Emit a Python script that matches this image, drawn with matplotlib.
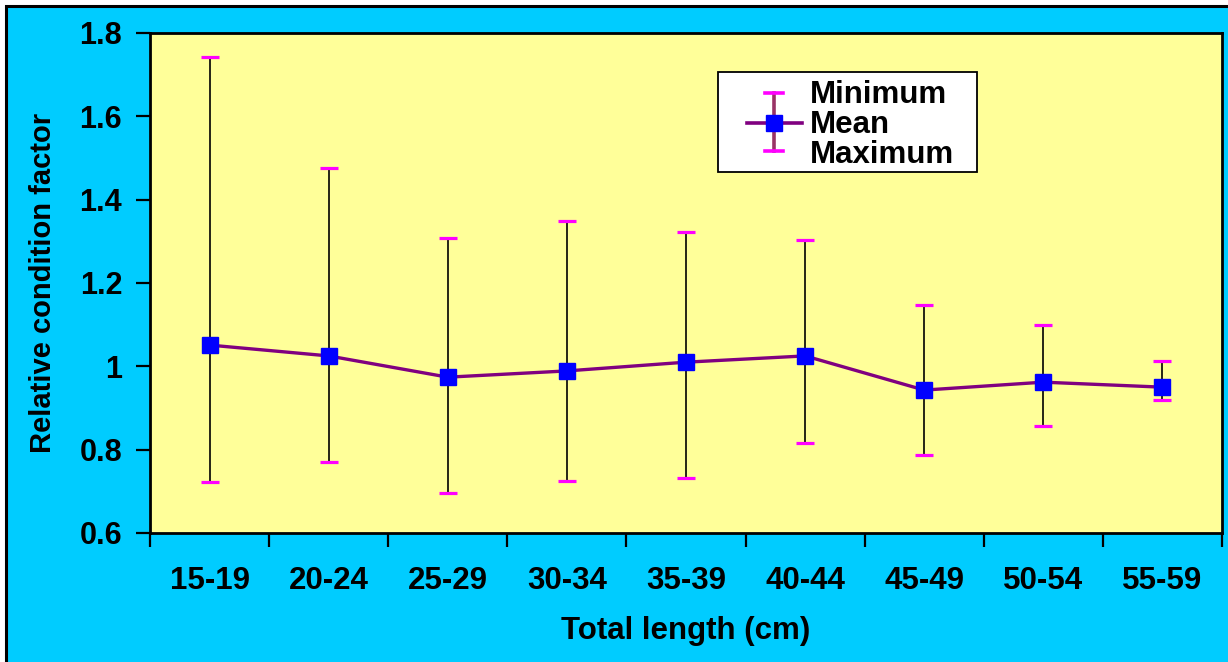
import matplotlib
matplotlib.use("Agg")
import matplotlib.pyplot as plt
from matplotlib.patches import Rectangle
from matplotlib.lines import Line2D
import numpy as np

categories = ["15-19", "20-24", "25-29", "30-34", "35-39", "40-44", "45-49", "50-54", "55-59"]
mean_vals = [1.051, 1.025, 0.974, 0.989, 1.010, 1.025, 0.943, 0.962, 0.950]
max_vals = [1.742, 1.476, 1.308, 1.349, 1.322, 1.303, 1.147, 1.099, 1.013]
min_vals = [0.722, 0.770, 0.696, 0.725, 0.732, 0.816, 0.787, 0.857, 0.919]
y_ticks = [0.6, 0.8, 1.0, 1.2, 1.4, 1.6, 1.8]
y_tick_labels = ["0.6", "0.8", "1", "1.2", "1.4", "1.6", "1.8"]

FONT = "Liberation Sans"
plt.rcParams["font.family"] = [FONT, "DejaVu Sans"]
plt.rcParams["font.weight"] = "bold"

W, H = 1228, 662
fig = plt.figure(figsize=(W / 100, H / 100), dpi=100, facecolor="white")

# cyan chart area with black border (top/left visible)
bg = Rectangle((6 / W, -0.1), 1.2, 1.1 - 6 / H, transform=fig.transFigure,
               facecolor="#00CCFF", edgecolor="black", linewidth=2.2, zorder=-10)
fig.patches.append(bg)

ax_l, ax_r, ax_t, ax_b = 150, 1222, 33, 533
ax = fig.add_axes([ax_l / W, 1 - ax_b / H, (ax_r - ax_l) / W, (ax_b - ax_t) / H])
ax.set_facecolor("#FFFF99")

x = np.arange(len(categories))
mean = np.array(mean_vals)
lo = mean - np.array(min_vals)
hi = np.array(max_vals) - mean

eb = ax.errorbar(x, mean, yerr=[lo, hi], fmt="none", ecolor="black", elinewidth=1.2,
                 capsize=6.5, capthick=2.3, zorder=2)
for cl in eb[1]:
    cl.set_color("#FF00FF")
    cl.set_markeredgecolor("#FF00FF")
    cl.set_markerfacecolor("#FF00FF")
ax.plot(x, mean, color="#800080", linewidth=2.4, zorder=3)
ax.plot(x, mean, linestyle="none", marker="s", markersize=11.5,
        markerfacecolor="#0000FF", markeredgecolor="#0000FF", zorder=4)

ax.set_xlim(-0.5, len(categories) - 0.5)
ax.set_ylim(0.6, 1.8)
ax.set_yticks(y_ticks)
ax.set_yticklabels(y_tick_labels)
ax.set_xticks(np.arange(-0.5, len(categories), 1.0))
ax.set_xticklabels([])
ax.set_xticks(x, minor=True)
ax.set_xticklabels(categories, minor=True)
ax.tick_params(axis="x", which="major", direction="out", length=10, width=1.6, color="black")
ax.tick_params(axis="x", which="minor", length=0, pad=24, labelsize=22.5)
ax.tick_params(axis="y", direction="out", length=10, width=1.6, pad=10, labelsize=22)
for lab in ax.get_xticklabels(minor=True) + ax.get_yticklabels():
    lab.set_fontweight("bold")
for s in ax.spines.values():
    s.set_linewidth(2)
    s.set_color("black")

ax.set_ylabel("Relative condition factor", fontsize=21, fontweight="bold", labelpad=16)
ax.set_xlabel("Total length (cm)", fontsize=22.5, fontweight="bold", labelpad=14)

# manual legend (axes fraction coordinates)
def fx(px):
    return (px - ax_l) / (ax_r - ax_l)

def fy(py):
    return 1 - (py - ax_t) / (ax_b - ax_t)

tr = ax.transAxes
ax.add_patch(Rectangle((fx(718), fy(172)), fx(977) - fx(718), fy(72) - fy(172), transform=tr,
                       facecolor="white", edgecolor="black", linewidth=1.3, zorder=5))
ax.add_line(Line2D([fx(747), fx(802)], [fy(123), fy(123)], transform=tr, color="#800080",
                   linewidth=2.6, zorder=6))
ax.add_line(Line2D([fx(774), fx(774)], [fy(93), fy(151)], transform=tr, color="#993366",
                   linewidth=2.6, zorder=6))
for yy in (93, 151):
    ax.add_line(Line2D([fx(765), fx(783)], [fy(yy), fy(yy)], transform=tr, color="#FF00FF",
                       linewidth=2.6, zorder=7))
ax.add_line(Line2D([fx(774)], [fy(123)], transform=tr, linestyle="none", marker="s",
                   markersize=11.5, markerfacecolor="#0000FF", markeredgecolor="#0000FF", zorder=8))
for txt, yy in (("Minimum", 95), ("Mean", 125), ("Maximum", 155)):
    ax.text(fx(810), fy(yy), txt, transform=tr, fontsize=22.5, fontweight="bold",
            va="center", ha="left", zorder=8)

fig.savefig("out.png", dpi=100, facecolor=fig.get_facecolor())
